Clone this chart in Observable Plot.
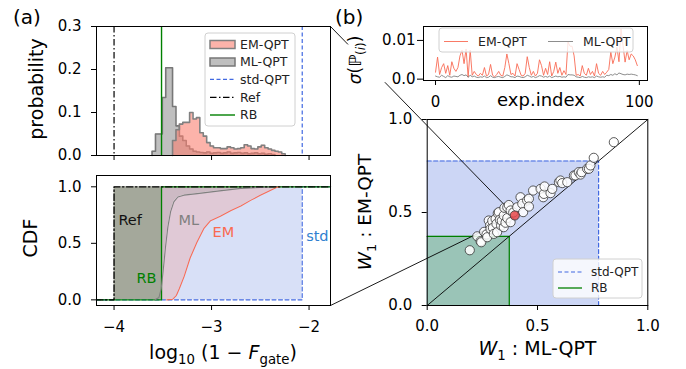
<!DOCTYPE html>
<html><head><meta charset="utf-8">
<script src="https://cdn.jsdelivr.net/npm/d3@7"></script>
<script src="https://cdn.jsdelivr.net/npm/@observablehq/plot@0.6"></script>
<style>
body{margin:0;background:#fff;}
#fig{position:relative;width:686px;height:369px;overflow:hidden;font-family:"DejaVu Sans",sans-serif;background:#fff;}
</style></head><body><div id="fig"></div>
<script>
// ---------------- data ----------------
const xDomainA = [-4.18, -1.78];
const refX = -4.0, rbX = -3.513, stdX = -2.07;

const binWidth = 0.035;
const mlStart = -3.61;
const mlProb = [0.010,0.050,0.050,0.135,0.204,0.204,0.114,0.069,0.045,0.035,0.022,0.015,0.010,0.008,0.007,0.006,0.008,0.005,0.006,0.007,0.005,0.006,0.008,0.005,0.006,0.007,0.005,0.006,0.004,0.005,0.006,0.004,0.005,0.003,0.004,0.002];
const emStart = -3.40;
const emProb = [0.035,0.060,0.073,0.077,0.077,0.100,0.085,0.088,0.053,0.045,0.030,0.022,0.018,0.018,0.016,0.016,0.020,0.018,0.015,0.016,0.018,0.025,0.022,0.016,0.015,0.020,0.024,0.018,0.015,0.012,0.010,0.008,0.004];

const mlCdfX = [-3.58,-3.54,-3.516,-3.496,-3.472,-3.448,-3.42,-3.387,-3.346,-3.284,-3.147,-2.94,-2.70,-2.50,-2.33];
const mlCdfY = [0,0.02,0.10,0.26,0.47,0.645,0.78,0.867,0.91,0.926,0.94,0.962,0.986,0.995,1.0];
const emCdfX = [-3.46,-3.40,-3.36,-3.33,-3.28,-3.22,-3.15,-3.08,-3.01,-2.91,-2.80,-2.70,-2.60,-2.50,-2.43,-2.33,-2.30];
const emCdfY = [0,0.005,0.04,0.10,0.21,0.37,0.51,0.63,0.70,0.74,0.79,0.83,0.88,0.925,0.955,0.995,1.0];

const emSigma = [
0.0018,0.0057,0.0012,0.0030,0.0040,0.0015,0.0035,0.0010,0.0045,0.0028,
0.0020,0.0030,0.0060,0.0075,0.0040,0.0078,0.0005,0.0075,0.0010,0.0020,
0.0012,0.0008,0.0015,0.0010,0.0030,0.0008,0.0012,0.0038,0.0010,0.0006,
0.0012,0.0020,0.0010,0.0008,0.0030,0.0065,0.0040,0.0012,0.0015,0.0008,
0.0040,0.0025,0.0010,0.0008,0.0015,0.0058,0.0030,0.0010,0.0020,0.0008,
0.0015,0.0050,0.0035,0.0010,0.0028,0.0012,0.0045,0.0008,0.0020,0.0044,
0.0015,0.0030,0.0010,0.0022,0.0012,0.0096,0.0085,0.0085,0.0060,0.0010,
0.0012,0.0008,0.0035,0.0015,0.0010,0.0028,0.0012,0.0020,0.0008,0.0040,
0.0015,0.0010,0.0020,0.0012,0.0018,0.0025,0.0070,0.0040,0.0057,0.0083,
0.0045,0.0130,0.0087,0.0044,0.0074,0.0050,0.0065,0.0060,0.0050,0.0035];
const mlSigma = [
0.0008,0.0006,0.0005,0.0010,0.0007,0.0004,0.0009,0.0006,0.0005,0.0008,
0.0007,0.0006,0.0010,0.0012,0.0009,0.0011,0.0005,0.0010,0.0006,0.0008,
0.0005,0.0004,0.0006,0.0005,0.0008,0.0004,0.0005,0.0009,0.0005,0.0004,
0.0006,0.0007,0.0005,0.0004,0.0007,0.0011,0.0009,0.0006,0.0006,0.0004,
0.0008,0.0007,0.0005,0.0004,0.0006,0.0010,0.0008,0.0005,0.0007,0.0004,
0.0006,0.0009,0.0008,0.0005,0.0007,0.0005,0.0008,0.0004,0.0006,0.0008,
0.0006,0.0007,0.0005,0.0006,0.0005,0.0012,0.0011,0.0011,0.0010,0.0006,
0.0005,0.0004,0.0007,0.0005,0.0004,0.0006,0.0005,0.0006,0.0004,0.0008,
0.0006,0.0005,0.0006,0.0005,0.0010,0.0009,0.0012,0.0010,0.0014,0.0011,
0.0016,0.0014,0.0012,0.0011,0.0013,0.0012,0.0013,0.0012,0.0011,0.0009];
const insetXTicks = [0, 100];
const insetYTicks = [0, 0.01];
const insetYTickLabels = ["0.0", "0.01"];

const w1ML = [0.193,0.227,0.242,0.245,0.258,0.269,0.272,0.279,0.285,0.287,0.295,0.298,0.302,0.310,0.314,0.317,0.320,0.325,0.329,0.335,0.338,0.347,0.347,0.350,0.355,0.363,0.363,0.370,0.378,0.378,0.390,0.408,0.423,0.431,0.435,0.453,0.461,0.461,0.480,0.514,0.526,0.529,0.532,0.559,0.567,0.597,0.604,0.612,0.635,0.665,0.672,0.687,0.695,0.700,0.725,0.733,0.740,0.755,0.846];
const w1EM = [0.297,0.372,0.346,0.340,0.396,0.382,0.367,0.457,0.430,0.412,0.455,0.418,0.385,0.466,0.439,0.394,0.496,0.502,0.461,0.430,0.455,0.484,0.421,0.525,0.445,0.528,0.470,0.540,0.448,0.511,0.500,0.528,0.582,0.547,0.502,0.565,0.574,0.532,0.618,0.627,0.582,0.600,0.640,0.604,0.627,0.663,0.672,0.658,0.663,0.699,0.699,0.717,0.704,0.717,0.735,0.735,0.753,0.794,0.878];
const highlight = {ml: 0.397, em: 0.484};
const stdW1 = 0.777, rbW1 = 0.372;
const unitTicks = [0, 0.5, 1];

const cdfNotes = [
  {x: -3.955, y: 0.70, text: "Ref", color: "#111"},
  {x: -3.34, y: 0.70, text: "ML", color: "#808080"},
  {x: -2.99, y: 0.60, text: "EM", color: "#fa6a50"},
  {x: -2.03, y: 0.56, text: "std", color: "#2f80d0"},
  {x: -3.77, y: 0.19, text: "RB", color: "green"}
];

// ---------------- colours ----------------
const EMC = "#f86b55", MLC = "#808080", STDC = "royalblue", RBC = "green";
const dashDot = "6.5,2.5,1.5,2.5", dashed = "4,2.5";

// ---------------- helpers ----------------
const fig = document.getElementById("fig");
const baseStyle = {background: "transparent", overflow: "visible", fontFamily: "'DejaVu Sans', sans-serif", fontSize: "15px", color: "black"};
function place(svg, left, top) {
  svg.style.position = "absolute"; svg.style.left = left + "px"; svg.style.top = top + "px";
  svg.style.maxWidth = "none";
  fig.appendChild(svg); return svg;
}
function stepPoints(start, probs) {
  const pts = [{x: start, y: 0}];
  probs.forEach((p, i) => pts.push({x: start + i * binWidth, y: p}));
  pts.push({x: start + probs.length * binWidth, y: 0});
  return pts;
}
const f1 = d3.format(".1f");

// ---------------- (a) histogram ----------------
const mlPts = stepPoints(mlStart, mlProb), emPts = stepPoints(emStart, emProb);
const hist = Plot.plot({
  width: 340, height: 170, marginLeft: 96, marginRight: 10, marginTop: 26, marginBottom: 15,
  x: {domain: xDomainA}, y: {domain: [0, 0.3]}, style: baseStyle,
  marks: [
    Plot.areaY(mlPts, {x: "x", y: "y", curve: "step-after", fill: "#808080", fillOpacity: 0.5}),
    Plot.lineY(mlPts, {x: "x", y: "y", curve: "step-after", stroke: "#777", strokeWidth: 1.6}),
    Plot.areaY(emPts, {x: "x", y: "y", curve: "step-after", fill: "#fa8072", fillOpacity: 0.6}),
    Plot.lineY(emPts, {x: "x", y: "y", curve: "step-after", stroke: "#808080", strokeWidth: 1.6}),
    Plot.ruleX([refX], {stroke: "black", strokeDasharray: dashDot, strokeWidth: 1.2}),
    Plot.ruleX([rbX], {stroke: RBC, strokeWidth: 1.4}),
    Plot.ruleX([stdX], {stroke: STDC, strokeDasharray: dashed, strokeWidth: 1.2}),
    Plot.frame({stroke: "black"}),
    Plot.axisX({ticks: [-4, -3, -2], tickFormat: () => "", tickSize: 5, label: null}),
    Plot.axisY({ticks: [0, 0.1, 0.2, 0.3], tickFormat: f1, tickSize: 5, tickPadding: 10, label: null})
  ]
});
place(hist, 0, 0);

// ---------------- (a) CDF ----------------
const mlCdf = mlCdfX.map((x, i) => ({x, y: mlCdfY[i]}));
const emCdf = emCdfX.map((x, i) => ({x, y: emCdfY[i]}));
const emCdfExt = emCdf.concat([{x: stdX, y: 1}]);
const stepLine = (x0) => [{x: xDomainA[0], y: 0}, {x: x0, y: 0}, {x: x0, y: 1}, {x: xDomainA[1], y: 1}];
const cdf = Plot.plot({
  width: 340, height: 209, marginLeft: 96, marginRight: 10, marginTop: 15, marginBottom: 64,
  x: {domain: xDomainA}, y: {domain: [-0.05, 1.1]}, style: baseStyle,
  marks: [
    Plot.areaY(mlCdf, {x: "x", y: "y", fill: "#e0c9d6"}),
    Plot.areaY(mlCdf.filter(d => d.x >= rbX - 0.004), {x: "x", y1: "y", y2: 1, fill: "#cdbac4"}),
    Plot.areaY(emCdfExt, {x: "x", y: "y", fill: "#d8e0f7"}),
    Plot.rect([0], {x1: refX, x2: rbX, y1: 0, y2: 1, fill: "#a4a89b"}),
    Plot.line(stepLine(stdX), {x: "x", y: "y", stroke: STDC, strokeDasharray: dashed, strokeWidth: 1.1}),
    Plot.line(stepLine(rbX), {x: "x", y: "y", stroke: RBC, strokeWidth: 1.3}),
    Plot.line(mlCdf, {x: "x", y: "y", stroke: MLC, strokeWidth: 1.1}),
    Plot.line(emCdf, {x: "x", y: "y", stroke: EMC, strokeWidth: 1.1}),
    Plot.line(stepLine(refX), {x: "x", y: "y", stroke: "black", strokeDasharray: dashDot, strokeWidth: 1.3}),
    Plot.text(cdfNotes, {x: "x", y: "y", text: "text", fill: "color", textAnchor: "start", fontSize: 14.5}),
    Plot.frame({stroke: "black"}),
    Plot.axisX({ticks: [-4, -3, -2], tickFormat: d3.format("d"), tickSize: 5, tickPadding: 11, label: null}),
    Plot.axisY({ticks: [0, 0.5, 1], tickFormat: f1, tickSize: 5, tickPadding: 10, label: null})
  ]
});
place(cdf, 0, 160);

// ---------------- (b) inset ----------------
const inset = Plot.plot({
  width: 346, height: 110, marginLeft: 83, marginRight: 39, marginTop: 26, marginBottom: 30,
  x: {domain: [-5.9, 104]}, y: {domain: [-0.00035, 0.0136]}, style: baseStyle,
  marks: [
    Plot.lineY(emSigma, {x: (d, i) => i, y: d => d, stroke: EMC, strokeWidth: 0.9}),
    Plot.lineY(mlSigma, {x: (d, i) => i, y: d => d, stroke: MLC, strokeWidth: 0.9}),
    Plot.frame({stroke: "black"}),
    Plot.axisX({ticks: insetXTicks, tickFormat: d3.format("d"), tickSize: 5, tickPadding: 11, label: null}),
    Plot.axisY({ticks: insetYTicks, tickFormat: d => insetYTickLabels[insetYTicks.indexOf(d)], tickSize: 6, tickPadding: 2, label: null})
  ]
});
place(inset, 340, 0);

// ---------------- (b) scatter ----------------
const scW = 346, scH = 269, scL = 86.7, scR = 38.7, scT = 19, scB = 64, scLeft = 340, scTop = 100;
const sx = Plot.scale({x: {domain: [0, 1], range: [scL, scW - scR]}});
const sy = Plot.scale({y: {domain: [0, 1], range: [scH - scB, scT]}});
// connector end-points from the frames of panel (a)
const hx = hist.scale("x"), hy = hist.scale("y"), cx = cdf.scale("x"), cy = cdf.scale("y");
const pTop = {x: sx.invert(hx.apply(xDomainA[1]) + 0 - scLeft), y: sy.invert(hy.apply(0.3) + 0 - scTop)};
const pBot = {x: sx.invert(cx.apply(xDomainA[1]) + 0 - scLeft), y: sy.invert(cy.apply(-0.05) + 160 - scTop)};
const lerp = (a, b, t) => ({x: a.x + (b.x - a.x) * t, y: a.y + (b.y - a.y) * t});
const hl = {x: highlight.ml, y: highlight.em};
const gapA = 0.095, gapB = 0.295;
const links = [
  {a: pTop, b: lerp(pTop, hl, gapA)},
  {a: lerp(pTop, hl, gapB), b: hl},
  {a: pBot, b: hl}
];
const pts = w1ML.map((m, i) => ({m, e: w1EM[i]}));
const sc = Plot.plot({
  width: scW, height: scH, marginLeft: scL, marginRight: scR, marginTop: scT, marginBottom: scB,
  x: {domain: [0, 1]}, y: {domain: [0, 1]}, style: baseStyle,
  marks: [
    Plot.rect([0], {x1: 0, x2: stdW1, y1: 0, y2: stdW1, fill: "#ccd6f5"}),
    Plot.rect([0], {x1: 0, x2: rbW1, y1: 0, y2: rbW1, fill: "#9ac4b7"}),
    Plot.line([[0, stdW1], [stdW1, stdW1], [stdW1, 0]], {stroke: STDC, strokeDasharray: dashed, strokeWidth: 1.2}),
    Plot.line([[0, rbW1], [rbW1, rbW1], [rbW1, 0]], {stroke: RBC, strokeWidth: 1.3}),
    Plot.line([[0, 0], [1, 1]], {stroke: "black", strokeWidth: 0.9}),
    Plot.link(links, {x1: d => d.a.x, y1: d => d.a.y, x2: d => d.b.x, y2: d => d.b.y, stroke: "black", strokeWidth: 0.9}),
    Plot.dot(pts, {x: "m", y: "e", r: 4.6, fill: "white", fillOpacity: 0.85, stroke: "#333", strokeWidth: 0.8}),
    Plot.dot([highlight], {x: "ml", y: "em", r: 4.6, fill: "#e8494a", fillOpacity: 0.85, stroke: "#333", strokeWidth: 0.8}),
    Plot.frame({stroke: "black"}),
    Plot.axisX({ticks: unitTicks, tickFormat: f1, tickSize: 5, tickPadding: 10, label: null}),
    Plot.axisY({ticks: unitTicks, tickFormat: f1, tickSize: 5, tickPadding: 10, label: null})
  ]
});
place(sc, scLeft, scTop);

// ---------------- overlay: labels & legends ----------------
const ov = d3.select(fig).append("svg").attr("width", 686).attr("height", 369)
  .style("position", "absolute").style("left", "0px").style("top", "0px")
  .attr("font-family", "'DejaVu Sans', sans-serif");
function addText({x, y, rotate = 0, anchor = "middle", fs, parts, fill = "black"}) {
  const t = ov.append("text").attr("font-size", fs).attr("text-anchor", anchor).attr("fill", fill)
    .attr("transform", `translate(${x},${y}) rotate(${rotate})`).style("white-space", "pre");
  parts.forEach(p => {
    const s = t.append("tspan").text(p.t);
    if (p.sub) s.attr("font-size", fs * 0.7);
    if (p.dy) s.attr("dy", p.dy);
    if (p.it) s.attr("font-style", "italic");
  });
}
addText({x: 13, y: 24, anchor: "start", fs: 20, parts: [{t: "(a)"}]});
addText({x: 335, y: 24, anchor: "start", fs: 20, parts: [{t: "(b)"}]});
addText({x: 42.5, y: 89, rotate: -90, fs: 19, parts: [{t: "probability"}]});
addText({x: 37, y: 238, rotate: -90, fs: 19, parts: [{t: "CDF"}]});
addText({x: 223, y: 359, fs: 19, parts: [{t: "log"}, {t: "10", sub: 1, dy: 5}, {t: " (1 − ", dy: -5}, {t: "F", it: 1}, {t: "gate", sub: 1, dy: 5}, {t: ")", dy: -5}]});
addText({x: 361, y: 60, rotate: -90, fs: 17, parts: [{t: "σ", it: 1}, {t: "("}, {t: "ℙ"}, {t: "(", sub: 1, dy: 4}, {t: "i", sub: 1, it: 1}, {t: ")", sub: 1}, {t: ")", dy: -4}]});
addText({x: 541, y: 106, fs: 18, parts: [{t: "exp.index"}]});
addText({x: 370.5, y: 212, rotate: -90, fs: 18.5, parts: [{t: "W", it: 1}, {t: "1", sub: 1, dy: 5}, {t: " : EM-QPT", dy: -5}]});
addText({x: 537.5, y: 355, fs: 19, parts: [{t: "W", it: 1}, {t: "1", sub: 1, dy: 5}, {t: " : ML-QPT", dy: -5}]});

function legendBox(x, y, w, h) {
  ov.append("rect").attr("x", x).attr("y", y).attr("width", w).attr("height", h).attr("rx", 3)
    .attr("fill", "white").attr("fill-opacity", 0.8).attr("stroke", "#d0d0d0").attr("stroke-width", 1);
}
function legendLine(x1, x2, y, stroke, dash, sw = 1.3) {
  ov.append("line").attr("x1", x1).attr("x2", x2).attr("y1", y).attr("y2", y).attr("stroke", stroke)
    .attr("stroke-width", sw).attr("stroke-dasharray", dash || null);
}
function legendLabel(x, y, text, fs = 12.5) {
  ov.append("text").attr("x", x).attr("y", y).attr("dy", "0.35em").attr("font-size", fs).attr("fill", "#222").text(text);
}
// histogram legend
legendBox(205, 33, 90, 93);
ov.append("rect").attr("x", 210).attr("y", 40.5).attr("width", 25).attr("height", 8).attr("fill", "#fa8072").attr("fill-opacity", 0.6).attr("stroke", "#808080").attr("stroke-width", 1.5);
ov.append("rect").attr("x", 210).attr("y", 58).attr("width", 25).attr("height", 8).attr("fill", "#808080").attr("fill-opacity", 0.5).attr("stroke", "#777").attr("stroke-width", 1.5);
legendLine(210, 235, 79.3, STDC, dashed, 1.2);
legendLine(210, 235, 97.3, "black", dashDot, 1.2);
legendLine(210, 235, 115, RBC, null, 1.4);
legendLabel(240, 44.3, "EM-QPT"); legendLabel(240, 61.7, "ML-QPT"); legendLabel(240, 79.3, "std-QPT");
legendLabel(240, 97.3, "Ref"); legendLabel(240, 115, "RB");
// inset legend
legendBox(439, 28, 194, 24);
legendLine(444, 468, 41.5, EMC, null, 0.9); legendLabel(478, 41.5, "EM-QPT");
legendLine(548, 573, 41.5, MLC, null, 0.9); legendLabel(583, 41.5, "ML-QPT");
// scatter legend
legendBox(553, 259, 89, 39);
legendLine(558, 582, 272, STDC, dashed, 1.2); legendLabel(591, 272, "std-QPT", 12);
legendLine(558, 582, 288, RBC, null, 1.3); legendLabel(591, 288, "RB", 12);
</script></body></html>
